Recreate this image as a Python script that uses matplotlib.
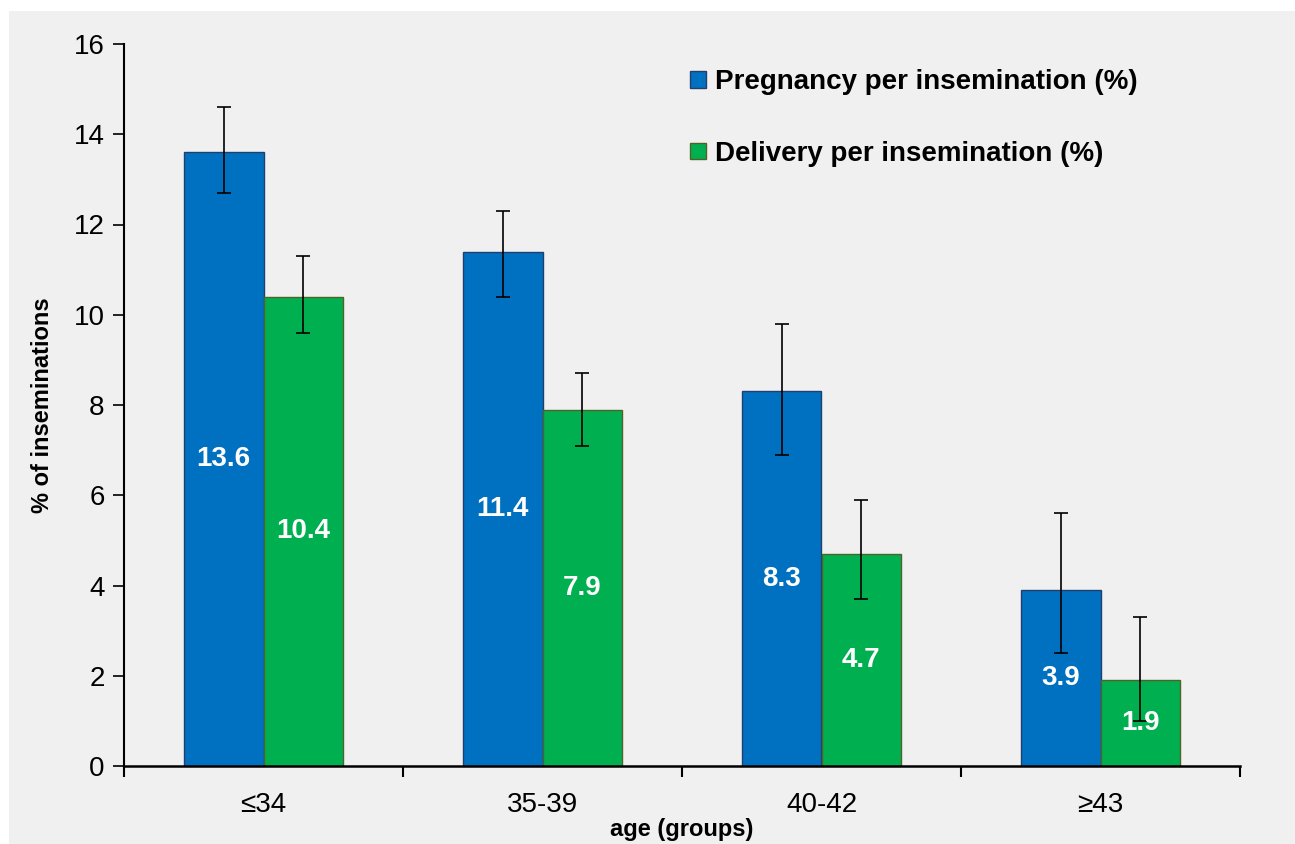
import matplotlib
matplotlib.use("Agg")
import matplotlib.pyplot as plt
from matplotlib.patches import Rectangle
import numpy as np

plt.rcParams['font.family'] = ['Liberation Sans', 'DejaVu Sans']

# Data
age_groups = ["≤34", "35-39", "40-42", "≥43"]
pregnancy = [13.6, 11.4, 8.3, 3.9]
delivery = [10.4, 7.9, 4.7, 1.9]
pregnancy_low = [12.7, 10.4, 6.9, 2.5]
pregnancy_high = [14.6, 12.3, 9.8, 5.6]
delivery_low = [9.6, 7.1, 3.7, 1.0]
delivery_high = [11.3, 8.7, 5.9, 3.3]
series_names = ["Pregnancy per insemination (%)", "Delivery per insemination (%)"]
y_ticks = [0, 2, 4, 6, 8, 10, 12, 14, 16]

blue = "#0070c0"
green = "#00b050"
bg = "#f0f0f0"

fig = plt.figure(figsize=(12.95, 8.44), dpi=100, facecolor="white")
fig.patches.append(Rectangle((9 / 1295, 0), 1 - 9 / 1295, 1 - 11 / 844,
                             transform=fig.transFigure, facecolor=bg,
                             edgecolor="none", zorder=-10))

ax = fig.add_axes([124 / 1295, 78 / 844, (1240 - 124) / 1295, (766 - 44) / 844])
ax.set_facecolor("none")

x = np.arange(len(age_groups))
w = 0.285

p = np.array(pregnancy)
d = np.array(delivery)
p_err = [p - np.array(pregnancy_low), np.array(pregnancy_high) - p]
d_err = [d - np.array(delivery_low), np.array(delivery_high) - d]

ax.bar(x - w / 2, p, w, color=blue, edgecolor="#1f3f6e", linewidth=1.0,
       label=series_names[0], zorder=2)
ax.bar(x + w / 2, d, w, color=green, edgecolor="#4f6228", linewidth=1.0,
       label=series_names[1], zorder=2)
ax.errorbar(x - w / 2, p, yerr=p_err, fmt="none", ecolor="black",
            elinewidth=1.2, capsize=5, capthick=1.2, zorder=3)
ax.errorbar(x + w / 2, d, yerr=d_err, fmt="none", ecolor="black",
            elinewidth=1.2, capsize=5, capthick=1.2, zorder=3)

for xi, v in zip(x - w / 2, p):
    ax.text(xi, v / 2, f"{v:.1f}", ha="center", va="center", color="white",
            fontsize=20, fontweight="bold", zorder=4)
for xi, v in zip(x + w / 2, d):
    ax.text(xi, v / 2, f"{v:.1f}", ha="center", va="center", color="white",
            fontsize=20, fontweight="bold", zorder=4)

ax.set_xlim(-0.5, len(age_groups) - 0.5)
ax.set_ylim(0, 16)
ax.set_yticks(y_ticks)
ax.set_yticklabels([str(t) for t in y_ticks])
ax.set_xticks(x)
ax.set_xticklabels(age_groups)
ax.set_xticks(np.arange(-0.5, len(age_groups), 1.0), minor=True)
ax.tick_params(axis="x", which="major", length=0, pad=19, labelsize=20)
ax.tick_params(axis="x", which="minor", length=8, width=1.5, direction="out")
ax.tick_params(axis="y", length=8, width=1.2, direction="out", labelsize=20, pad=6)

for s in ["top", "right"]:
    ax.spines[s].set_visible(False)
ax.spines["left"].set_linewidth(1.5)
ax.spines["bottom"].set_linewidth(1.8)

ax.set_ylabel("% of inseminations", fontsize=17, fontweight="bold", labelpad=14)
ax.set_xlabel("age (groups)", fontsize=17, fontweight="bold", labelpad=0)

ax.legend(loc="upper left", bbox_to_anchor=(0.485, 1.0), frameon=False,
          prop={"size": 20, "weight": "bold"}, handlelength=0.55,
          handleheight=0.55, handletextpad=0.35, labelspacing=1.65)

fig.savefig("out.png", dpi=100, facecolor=fig.get_facecolor())
